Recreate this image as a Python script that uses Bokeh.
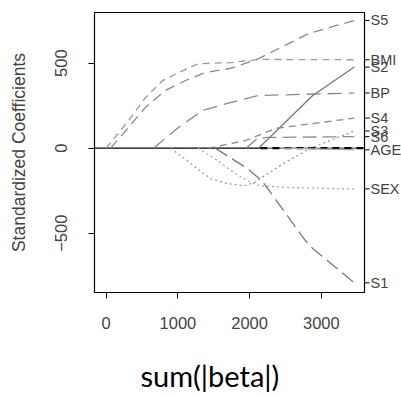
import math
from bokeh.plotting import figure
from bokeh.models import Range1d, FixedTicker
from bokeh.core.properties import value
from bokeh.embed import file_html
from bokeh.resources import INLINE

# ---- data ----
bmi_x = [0, 311, 548, 785, 1008, 1287, 1733, 2125, 3460]
bmi_y = [0, 162, 297, 397, 444, 497, 503, 522, 520]

s5_x = [61, 311, 548, 827, 1106, 1385, 1733, 2125, 2822, 3460]
s5_y = [0, 122, 240, 340, 398, 445, 469, 527, 674, 751]

bp_x = [660, 1008, 1345, 1733, 2125, 3460]
bp_y = [0, 122, 222, 268, 310, 324]

s2_x = [2125, 2880, 3460]
s2_y = [0, 310, 477]

s4_x = [1420, 1946, 2361, 3460]
s4_y = [0, 45, 116, 177]

s6_x = [1950, 2100, 2250, 3460]
s6_y = [0, 55, 63, 68]

s3_x = [900, 1178, 1457, 1692, 1915, 2055, 2474, 2850, 3460]
s3_y = [0, -90, -180, -208, -222, -205, -90, 0, 101]

sex_x = [1280, 1552, 1775, 2015, 2155, 2600, 3460]
sex_y = [0, -72, -143, -202, -222, -232, -240]

s1_x = [1520, 1970, 2180, 2780, 2880, 3460]
s1_y = [0, -120, -196, -545, -590, -792]

age_x = [2450, 3460]
age_y = [0, -10]

x_ticks = [0, 1000, 2000, 3000]
y_ticks = [-500, 0, 500]
end_labels = ["S5", "BMI", "S2", "BP", "S4", "S3", "S6", "AGE", "SEX", "S1"]
end_values = [751.3, 519.8, 476.7, 324.4, 177.1, 101.0, 67.6, -10.0, -239.8, -792.2]
x_title = "sum(|beta|)"
y_title = "Standardized Coefficients"

# plotting box (R style) inside a canvas-wide frame
W_PX, H_PX = 401, 394
BOX_L, BOX_T, BOX_W, BOX_H = 94, 12, 270, 280
box_x0, box_x1 = -163, 3602
box_y0, box_y1 = -849, 798
px_x = (box_x1 - box_x0) / BOX_W
px_y = (box_y1 - box_y0) / BOX_H
zero_dash_start = 2150

def sx(px):
    return box_x0 + (px - BOX_L) * px_x

def sy(py):
    return box_y1 - (py - BOX_T) * px_y

x_range = Range1d(sx(0), sx(W_PX))
y_range = Range1d(sy(H_PX), sy(0))

p = figure(width=W_PX, height=H_PX, x_range=x_range, y_range=y_range,
           output_backend="svg", toolbar_location=None,
           min_border_left=0, min_border_top=0, min_border_right=0, min_border_bottom=0)
p.grid.visible = False
p.outline_line_color = None
p.background_fill_color = "white"
p.border_fill_color = "white"

TXT = "#444444"
FONT = "Liberation Sans"

for ax in (p.xaxis[0], p.yaxis[0]):
    ax.axis_line_color = None
    ax.major_tick_line_color = "black"
    ax.major_tick_out = 6
    ax.major_tick_in = 0
    ax.minor_tick_line_color = None
    ax.major_label_text_font = FONT
    ax.major_label_text_font_size = "16.5px"
    ax.major_label_text_color = TXT

p.xaxis.ticker = FixedTicker(ticks=x_ticks)
p.xaxis.major_label_standoff = 18
p.xaxis.fixed_location = box_y0
p.yaxis.ticker = FixedTicker(ticks=y_ticks)
p.yaxis.major_label_orientation = "vertical"
p.yaxis.major_label_standoff = 21
p.yaxis.fixed_location = box_x0

# box
p.quad(left=[box_x0], right=[box_x1], bottom=[box_y0], top=[box_y1],
       fill_color=None, line_color="black", line_width=1.2)

# right-side labels of the final coefficients
n = len(end_values)
p.segment(x0=[box_x1] * n, x1=[box_x1 + 5 * px_x] * n, y0=end_values, y1=end_values,
          line_color="black", line_width=1)
p.text(x=[box_x1 + 6 * px_x] * n, y=end_values, text=end_labels,
       text_font=value(FONT), text_font_size="14.5px", text_color=TXT,
       text_baseline="middle", text_align="left")

# axis titles
p.text(x=[sx(18)], y=[sy(152)], text=[y_title], angle=math.pi / 2,
       text_font=value(FONT), text_font_size="17.5px", text_color=TXT,
       text_baseline="middle", text_align="center")
p.text(x=[sx(140)], y=[sy(375)], text=[x_title],
       text_font=value("Lato"), text_font_size="29px", text_color="black",
       text_baseline="middle", text_align="left")

# zero reference line
p.line([box_x0, zero_dash_start], [0, 0], line_color="black", line_width=1.2)
p.line([zero_dash_start, box_x1], [0, 0], line_color="black", line_width=2.2, line_dash="7 5")
p.line([zero_dash_start, box_x1], [0, 0], line_color="black", line_width=0.8)

W = 1.3
p.line(bmi_x, bmi_y, line_color="#9a9a9a", line_width=W, line_dash="7 5")
p.line(s5_x, s5_y, line_color="#8a8a8a", line_width=W, line_dash="10 6")
p.line(bp_x, bp_y, line_color="#8a8a8a", line_width=W, line_dash="14 7")
p.line(s2_x, s2_y, line_color="#777777", line_width=W)
p.line(s4_x, s4_y, line_color="#8a8a8a", line_width=W, line_dash="7 5")
p.line(s6_x, s6_y, line_color="#8a8a8a", line_width=W, line_dash="14 6")
p.line(s3_x, s3_y, line_color="#999999", line_width=W, line_dash="2 3")
p.line(sex_x, sex_y, line_color="#aaaaaa", line_width=W, line_dash="2 3")
p.line(s1_x, s1_y, line_color="#7a7a7a", line_width=W, line_dash="14 6")
p.line(age_x, age_y, line_color="#aaaaaa", line_width=W)

open("out.html", "w").write(file_html(p, INLINE))
